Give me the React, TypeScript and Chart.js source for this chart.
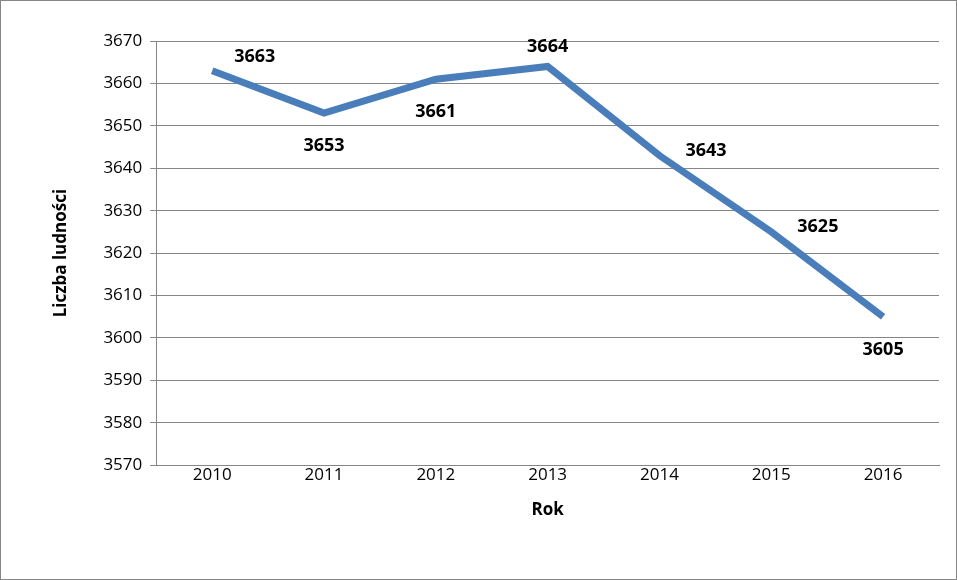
import { useEffect, useRef } from 'react';
import { Chart, registerables } from 'chart.js';

Chart.register(...registerables);

const years = ['2010', '2011', '2012', '2013', '2014', '2015', '2016'];
const population = [3663, 3653, 3661, 3664, 3643, 3625, 3605];
// where each value label sits relative to its point
const labelSpots = ['upRight', 'below', 'below', 'above', 'right', 'right', 'below'];

const FONT = '"Open Sans", "Noto Sans", sans-serif';

const valueLabels = {
  id: 'valueLabels',
  afterDatasetsDraw(chart: Chart) {
    const ctx = chart.ctx;
    const meta = chart.getDatasetMeta(0);
    ctx.save();
    ctx.font = `bold 18px ${FONT}`;
    ctx.fillStyle = '#000';
    ctx.textBaseline = 'middle';
    meta.data.forEach((pt, i) => {
      const { x, y } = pt.getProps(['x', 'y'], true) as any;
      const text = String(population[i]);
      const spot = labelSpots[i];
      let tx = x, ty = y;
      ctx.textAlign = 'center';
      if (spot === 'upRight') { ctx.textAlign = 'left'; tx = x + 22; ty = y - 14; }
      else if (spot === 'below') { ty = y + 33; }
      else if (spot === 'above') { ty = y - 20; }
      else if (spot === 'right') { ctx.textAlign = 'left'; tx = x + 26; ty = y - 5; }
      ctx.fillText(text, tx, ty);
    });
    ctx.restore();
  },
};

export default function App() {
  const ref = useRef<HTMLCanvasElement>(null);

  useEffect(() => {
    document.body.style.margin = '0';
    const ctx = ref.current?.getContext('2d');
    if (!ctx) return;
    const chart = new Chart(ctx, {
      type: 'line',
      data: {
        labels: years,
        datasets: [
          {
            data: population,
            borderColor: '#4a7ebb',
            borderWidth: 7,
            pointRadius: 0,
            tension: 0,
            borderCapStyle: 'butt',
          },
        ],
      },
      options: {
        animation: false,
        responsive: false,
        layout: { padding: { left: 46, top: 40, right: 17, bottom: 55 } },
        plugins: { legend: { display: false }, tooltip: { enabled: false } },
        scales: {
          x: {
            offset: true,
            grid: { display: false, tickLength: 0 },
            border: { color: '#868686' },
            ticks: { color: '#000', font: { family: FONT, size: 17 }, padding: 0 },
            title: { display: true, text: 'Rok', color: '#000', font: { family: FONT, size: 17, weight: 'bold' }, padding: { top: 14 } },
          },
          y: {
            min: 3570,
            max: 3670,
            ticks: { stepSize: 10, color: '#000', font: { family: FONT, size: 17 }, padding: 8, callback: (v) => String(v) },
            grid: { color: '#868686', tickLength: 6 },
            border: { color: '#868686' },
            title: { display: true, text: 'Liczba ludności', color: '#000', font: { family: FONT, size: 17, weight: 'bold' }, padding: { bottom: 24 } },
          },
        },
      },
      plugins: [valueLabels],
    });
    return () => chart.destroy();
  }, []);

  return (
    <div style={{ width: 957, height: 580, boxSizing: 'border-box', border: '1px solid #868686' }}>
      <canvas ref={ref} width={955} height={578} />
    </div>
  );
}
